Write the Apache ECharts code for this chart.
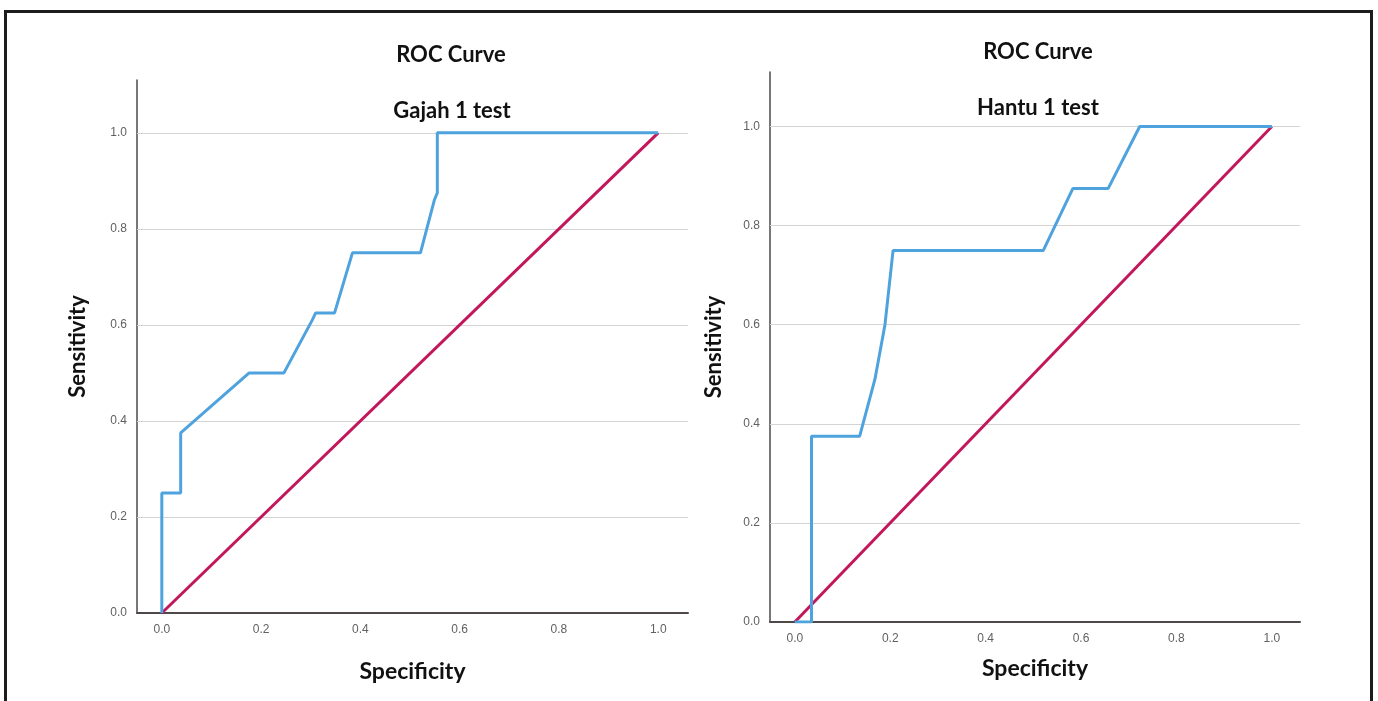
<!DOCTYPE html>
<html>
<head>
<meta charset="utf-8">
<script src="https://cdn.jsdelivr.net/npm/echarts@6/dist/echarts.min.js"></script>
<style>
  html, body { margin: 0; padding: 0; background: #ffffff; }
  #wrap { position: relative; width: 1378px; height: 701px; overflow: hidden; }
  #chart { position: absolute; left: 0; top: 0; width: 1378px; height: 701px; }
  #frame { position: absolute; left: 4px; top: 10px; width: 1363px; height: 720px;
           border: 3px solid #1c1c1c; pointer-events: none; }
</style>
</head>
<body>
<div id="wrap">
  <div id="chart"></div>
  <div id="frame"></div>
</div>
<script>
// ---- data ----
var tickValues = [0, 0.2, 0.4, 0.6, 0.8, 1.0];
var gridValues = [0.2, 0.4, 0.6, 0.8, 1.0];

var gajahX = [0, 0, 0.038, 0.038, 0.176, 0.246, 0.303, 0.31, 0.348, 0.384, 0.521, 0.549, 0.555, 0.555, 1];
var gajahY = [0, 0.25, 0.25, 0.375, 0.5, 0.5, 0.61, 0.625, 0.625, 0.75, 0.75, 0.86, 0.875, 1, 1];

var hantuX = [0, 0.035, 0.035, 0.136, 0.168, 0.189, 0.206, 0.521, 0.583, 0.657, 0.723, 1];
var hantuY = [0, 0, 0.375, 0.375, 0.49, 0.6, 0.75, 0.75, 0.875, 0.875, 1, 1];

var refX = [0, 1];
var refY = [0, 1];

var titles = ['ROC Curve', 'ROC Curve'];
var subtitles = ['Gajah 1 test', 'Hantu 1 test'];
var xName = 'Specificity';
var yName = 'Sensitivity';

function pairs(xs, ys) { return xs.map(function (x, i) { return [x, ys[i]]; }); }
function fmt(v) { return v.toFixed(1); }

var BLUE = '#4ea2de';
var RED = '#c2185b';
var AXIS = '#4f4848';
var GRID = '#d6d3d3';
var LABEL = '#616161';
var TITLE_FONT = 'Lato, "Open Sans", sans-serif';

function xAxisCfg(idx, min, max, gap) {
  return {
    type: 'value', gridIndex: idx, min: min, max: max,
    name: xName, nameLocation: 'middle', nameGap: gap,
    nameTextStyle: { fontFamily: TITLE_FONT, fontWeight: 'bold', fontSize: 23, color: '#111' },
    axisLine: { show: true, onZero: false, lineStyle: { color: AXIS, width: 2 } },
    axisTick: { show: false },
    splitLine: { show: false },
    axisLabel: { customValues: tickValues, formatter: fmt, color: LABEL, fontSize: 12,
                 fontFamily: '"Liberation Sans", Arial, sans-serif', margin: 11 }
  };
}
function yAxisCfg(idx, gap) {
  return {
    type: 'value', gridIndex: idx, min: 0, max: 1.11,
    name: yName, nameLocation: 'middle', nameGap: gap, nameRotate: 90,
    nameTextStyle: { fontFamily: TITLE_FONT, fontWeight: 'bold', fontSize: 22, color: '#111' },
    axisLine: { show: true, onZero: false, lineStyle: { color: AXIS, width: 1.5 } },
    axisTick: { show: false },
    splitLine: { show: false },
    axisLabel: { customValues: tickValues, formatter: fmt, color: LABEL, fontSize: 12,
                 fontFamily: '"Liberation Sans", Arial, sans-serif', margin: 10 }
  };
}
function gridSeries(idx) {
  return {
    type: 'line', xAxisIndex: idx, yAxisIndex: idx, data: [], z: 1, silent: true, animation: false,
    markLine: {
      silent: true, symbol: 'none', animation: false, z: 1,
      label: { show: false },
      lineStyle: { color: GRID, type: 'solid', width: 1 },
      data: gridValues.map(function (v) { return { yAxis: v }; })
    }
  };
}
function lineSeries(idx, xs, ys, color, z) {
  return {
    type: 'line', xAxisIndex: idx, yAxisIndex: idx,
    data: pairs(xs, ys), showSymbol: false, symbol: 'none', animation: false,
    lineStyle: { color: color, width: 3 }, z: z
  };
}

var chart = echarts.init(document.getElementById('chart'), null, { renderer: 'canvas' });
chart.setOption({
  backgroundColor: '#ffffff',
  animation: false,
  grid: [
    { left: 137, top: 80, width: 551, bottom: 88 },
    { left: 770, top: 72, width: 530, bottom: 79 }
  ],
  xAxis: [ xAxisCfg(0, -0.05, 1.06, 47), xAxisCfg(1, -0.052, 1.059, 35) ],
  yAxis: [ yAxisCfg(0, 48), yAxisCfg(1, 45) ],
  graphic: [
    { type: 'text', x: 451, y: 55, style: { text: titles[0], align: 'center', verticalAlign: 'middle',
      font: 'bold 22px ' + TITLE_FONT, fill: '#111' } },
    { type: 'text', x: 452, y: 111, style: { text: subtitles[0], align: 'center', verticalAlign: 'middle',
      font: 'bold 22px ' + TITLE_FONT, fill: '#111' } },
    { type: 'text', x: 1038, y: 52, style: { text: titles[1], align: 'center', verticalAlign: 'middle',
      font: 'bold 22px ' + TITLE_FONT, fill: '#111' } },
    { type: 'text', x: 1038, y: 108, style: { text: subtitles[1], align: 'center', verticalAlign: 'middle',
      font: 'bold 22px ' + TITLE_FONT, fill: '#111' } }
  ],
  series: [
    gridSeries(0),
    lineSeries(0, refX, refY, RED, 3),
    lineSeries(0, gajahX, gajahY, BLUE, 4),
    gridSeries(1),
    lineSeries(1, refX, refY, RED, 3),
    lineSeries(1, hantuX, hantuY, BLUE, 4)
  ]
});
</script>
</body>
</html>
